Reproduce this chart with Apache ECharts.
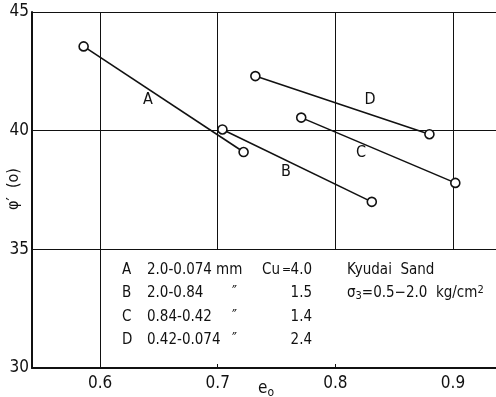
<!DOCTYPE html>
<html>
<head>
<meta charset="utf-8">
<script src="https://cdn.jsdelivr.net/npm/echarts@6/dist/echarts.min.js"></script>
<style>
  html, body { margin: 0; padding: 0; background: #fff; }
  #chart { width: 496px; height: 397px; }
</style>
</head>
<body>
<div id="chart"></div>
<script>
// Kyudai Sand: friction angle vs initial void ratio, four gradings
var seriesNames = ['A', 'B', 'C', 'D'];
var e0A = [0.586, 0.722], phiA = [43.55, 39.1];
var e0B = [0.704, 0.831], phiB = [40.05, 37.0];
var e0C = [0.771, 0.902], phiC = [40.55, 37.8];
var e0D = [0.732, 0.880], phiD = [42.3, 39.85];
var gradings = ['2.0-0.074', '2.0-0.84', '0.84-0.42', '0.42-0.074'];
var cuValues = ['4.0', '1.5', '1.4', '2.4'];
var xTicks = [0.6, 0.7, 0.8, 0.9];
var yTicks = [30, 35, 40, 45];

var FONT = "'Liberation Sans Narrow', 'DejaVu Sans Condensed', sans-serif";
var INK = '#111';

function pairs(xs, ys) {
  return xs.map(function (x, i) { return [x, ys[i]]; });
}

var chart = echarts.init(document.getElementById('chart'));

// vertical grid lines: 0.6 runs full height, the rest stop at 35 above the note block
var vLines = xTicks.map(function (x, i) {
  return [{ coord: [x, i === 0 ? yTicks[0] : 35] }, { coord: [x, yTicks[3]] }];
});

var lineSeries = [[e0A, phiA], [e0B, phiB], [e0C, phiC], [e0D, phiD]].map(function (d, i) {
  var s = {
    name: seriesNames[i],
    type: 'line',
    data: pairs(d[0], d[1]),
    symbol: 'circle',
    symbolSize: 9,
    showSymbol: true,
    z: 5,
    lineStyle: { color: INK, width: 1.6 },
    itemStyle: { color: '#fff', borderColor: INK, borderWidth: 1.6 },
    emphasis: { disabled: true },
    animation: false
  };
  if (i === 0) {
    s.markLine = {
      silent: true, symbol: 'none', label: { show: false },
      lineStyle: { color: INK, width: 1, type: 'solid' },
      data: vLines, animation: false
    };
  }
  return s;
});

function txt(x, y, text, size, align) {
  return { type: 'text', x: x, y: y,
    style: { text: text, font: size + 'px ' + FONT, fill: INK, align: align || 'left', verticalAlign: 'middle' } };
}

var letterPos = [[148, 100], [286, 172], [361, 153], [370, 100]];
var graphics = seriesNames.map(function (n, i) {
  return txt(letterPos[i][0], letterPos[i][1], n, 16, 'center');
});

var rowY = [270, 293, 317, 340];
seriesNames.forEach(function (n, i) {
  graphics.push(txt(122, rowY[i], n, 15));
  graphics.push(txt(147, rowY[i], gradings[i], 15));
  graphics.push(txt(i === 0 ? 216 : 232, rowY[i], i === 0 ? 'mm' : '\u2033', 15));
  graphics.push(txt(312, rowY[i], cuValues[i], 15, 'right'));
});
graphics.push(txt(262, rowY[0], 'Cu', 15));
graphics.push(txt(282, rowY[0], '=', 12));
graphics.push(txt(347, rowY[0], 'Kyudai  Sand', 15));
graphics.push({ type: 'text', x: 347, y: rowY[1],
  style: {
    text: '{s|σ}{sub|3}{s|=0.5\u22122.0  kg/cm}{sup|2}',
    verticalAlign: 'middle',
    rich: {
      s: { font: '15px ' + FONT, fill: INK },
      sub: { font: '11px ' + FONT, fill: INK, padding: [6, 0, 0, 0] },
      sup: { font: '11px ' + FONT, fill: INK, padding: [0, 0, 6, 0] }
    }
  } });
// x axis name e0
graphics.push({ type: 'text', x: 258, y: 389,
  style: {
    text: '{e|e}{o|o}', verticalAlign: 'middle',
    rich: {
      e: { font: '17px ' + FONT, fill: INK },
      o: { font: '12px ' + FONT, fill: INK, padding: [7, 0, 0, 0] }
    }
  } });
// y axis name phi' (o), reading upwards
graphics.push({ type: 'text', x: 14, y: 189, rotation: Math.PI / 2,
  style: { text: 'φ\u2032  (o)', font: '16px ' + FONT, fill: INK, align: 'center', verticalAlign: 'middle' } });

chart.setOption({
  backgroundColor: '#fff',
  animation: false,
  grid: { left: 32, right: 0, top: 12, bottom: 29, outerBoundsMode: 'none', containLabel: false },
  xAxis: {
    type: 'value',
    min: 0.5421,
    max: 0.9366,
    axisLine: { show: true, lineStyle: { color: INK, width: 2 } },
    axisTick: { show: true, inside: true, length: 4, customValues: [0.7, 0.8], lineStyle: { color: INK } },
    splitLine: { show: false },
    axisLabel: {
      customValues: xTicks,
      margin: 7,
      color: INK,
      fontFamily: FONT,
      fontSize: 17,
      formatter: function (v) { return v.toFixed(1); }
    }
  },
  yAxis: {
    type: 'value',
    min: yTicks[0],
    max: yTicks[3],
    interval: 5,
    axisLine: { show: true, lineStyle: { color: INK, width: 2 } },
    axisTick: { show: false },
    splitLine: { show: true, lineStyle: { color: INK, width: 1.2 } },
    axisLabel: { color: INK, fontFamily: FONT, fontSize: 17, margin: 3 }
  },
  series: lineSeries,
  graphic: graphics
});
</script>
</body>
</html>
